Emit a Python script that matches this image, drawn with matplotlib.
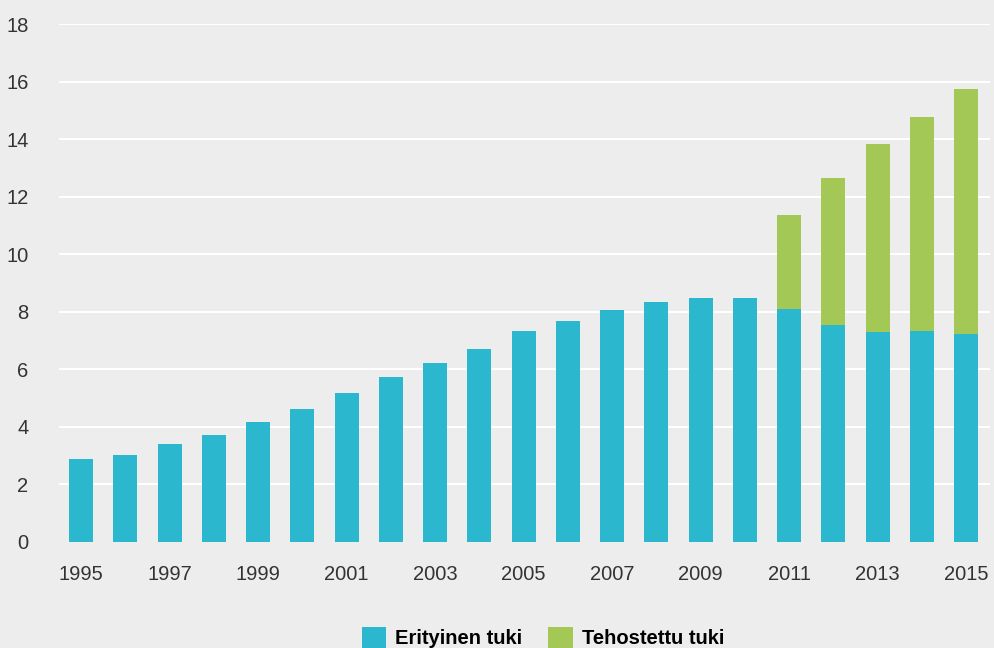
import matplotlib
matplotlib.use("Agg")
import matplotlib.pyplot as plt
from matplotlib.patches import Patch
import numpy as np

years = list(range(1995, 2016))
erityinen = [2.88, 3.02, 3.41, 3.72, 4.17, 4.62, 5.16, 5.72, 6.20, 6.71, 7.33,
             7.67, 8.07, 8.34, 8.48, 8.48, 8.08, 7.55, 7.30, 7.33, 7.23]
tehostettu = [0, 0, 0, 0, 0, 0, 0, 0, 0, 0, 0,
              0, 0, 0, 0, 0, 3.27, 5.10, 6.52, 7.45, 8.50]
yticks = list(range(0, 19, 2))
xtick_years = list(range(1995, 2016, 2))
series_names = ["Erityinen tuki", "Tehostettu tuki"]

c_blue = "#2bb8ce"
c_green = "#a3c855"
bg = "#ededed"
txt = "#333333"

fam = ["Liberation Sans", "DejaVu Sans"]
plt.rcParams["font.family"] = fam

fig = plt.figure(figsize=(9.95, 6.48), dpi=100, facecolor=bg)
ax = fig.add_axes([59/995, 1-541.7/648, (990-59)/995, (541.7-24)/648])
ax.set_facecolor(bg)

x = np.arange(len(years))
ax.bar(x, erityinen, width=0.54, color=c_blue, zorder=3)
ax.bar(x, tehostettu, width=0.54, bottom=erityinen, color=c_green, zorder=3)

ax.set_xlim(-0.5, len(years) - 1 + 0.54)
ax.set_ylim(0, 18)
ax.set_yticks(yticks)
ax.set_yticklabels([str(v) for v in yticks])
ax.set_xticks([years.index(y) for y in xtick_years])
ax.set_xticklabels([str(y) for y in xtick_years])
ax.tick_params(axis="both", length=0, labelsize=14.5, colors=txt)
ax.tick_params(axis="y", pad=22)
ax.tick_params(axis="x", pad=17)
for s in ax.spines.values():
    s.set_visible(False)
ax.yaxis.grid(True, color="white", linewidth=1.5, zorder=0)
ax.set_axisbelow(True)
ax.get_ygridlines()[0].set_visible(False)

handles = [Patch(facecolor=c_blue, edgecolor="none"),
           Patch(facecolor=c_green, edgecolor="none")]
fig.legend(handles, series_names, loc="lower center", bbox_to_anchor=(0.5457, -0.016),
           ncol=2, frameon=False, handlelength=1.2, handleheight=1.2, handletextpad=0.45,
           columnspacing=1.3, borderpad=0, prop={"family": fam, "weight": "bold", "size": 14.5})

fig.savefig("out.png", dpi=100, facecolor=bg)
